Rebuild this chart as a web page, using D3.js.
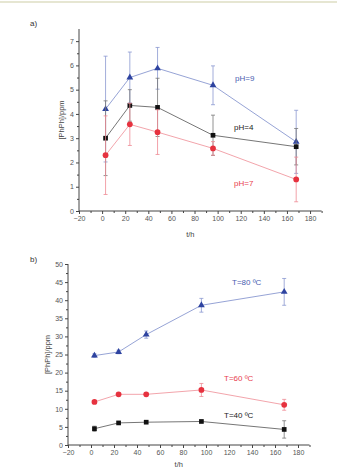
<!DOCTYPE html>
<html>
<head>
<meta charset="utf-8">
<script src="https://cdn.jsdelivr.net/npm/d3@7"></script>
<style>
  body { margin: 0; background: #fff; }
  svg { display: block; font-family: "Liberation Sans", Arial, sans-serif; }
</style>
</head>
<body>
<div id="viz"></div>
<script>
// sampling times (h), shared by both panels
const times = [3, 24, 48, 96, 168];
const xTicks = [-20, 0, 20, 40, 60, 80, 100, 120, 140, 160, 180];

// panel a) pH series
const ph9 = [4.2, 5.5, 5.88, 5.18, 2.85];
const ph9Err = [2.18, 1.05, 0.86, 0.8, 1.3];
const ph4 = [3.0, 4.35, 4.27, 3.12, 2.65];
const ph4Err = [1.54, 0.65, 1.2, 0.83, 0.75];
const ph7 = [2.3, 3.57, 3.25, 2.58, 1.3];
const ph7Err = [1.62, 0.87, 0.92, 0.28, 0.92];
const aTicks = [0, 1, 2, 3, 4, 5, 6, 7];

// panel b) temperature series
const t80 = [24.7, 25.7, 30.5, 38.6, 42.3];
const t80Err = [0.5, 0.5, 1.0, 1.9, 3.7];
const t60 = [11.9, 14.0, 14.0, 15.2, 11.1];
const t60Err = [0.4, 0.4, 0.4, 1.8, 1.5];
const t40 = [4.5, 6.1, 6.3, 6.5, 4.3];
const t40Err = [0.7, 0.3, 0.3, 0.3, 2.4];
const bTicks = [0, 5, 10, 15, 20, 25, 30, 35, 40, 45, 50];

const W = 337, H = 469;
const svg = d3.select("#viz").append("svg").attr("width", W).attr("height", H);

// thin beige rule at the very top
svg.append("rect").attr("x", 0).attr("y", 1).attr("width", W).attr("height", 2)
    .attr("fill", "#e6e6d2");

const style = {
    blue: { line: "#8a98d0", mark: "#2e43a0", err: "#8a98d0", text: "#4a5db0", shape: "triangle" },
    black: { line: "#666", mark: "#111", err: "#777", text: "#222", shape: "square" },
    red: { line: "#f09aa2", mark: "#e6323f", err: "#ef8a94", text: "#e8404e", shape: "circle" }
};

function drawPanel(p) {
    const x = d3.scaleLinear().domain([-20, 190]).range(p.xRange);
    const y = d3.scaleLinear().domain(p.yDomain).range(p.yRange);
    const g = svg.append("g");

    // panel tag
    g.append("text").attr("x", p.tag[0]).attr("y", p.tag[1])
        .attr("font-size", 8).attr("fill", "#333").text(p.tagText);

    // x axis
    g.append("g")
        .attr("transform", `translate(0,${p.yRange[0]})`)
        .call(d3.axisBottom(x).tickValues(xTicks).tickSize(3).tickPadding(2))
        .call(a => a.select(".domain").attr("d", `M${p.xRange[0]},0H${p.xRange[1]}`));
    g.append("g")
        .attr("transform", `translate(0,${p.yRange[0]})`)
        .call(d3.axisBottom(x).tickValues(d3.range(-10, 191, 20)).tickSize(2).tickFormat(""))
        .call(a => a.select(".domain").remove());

    // y axis
    g.append("g")
        .attr("transform", `translate(${p.xRange[0]},0)`)
        .call(d3.axisLeft(y).tickValues(p.yTicks).tickSize(3).tickPadding(2))
        .call(a => a.select(".domain").attr("d", `M0,${p.yRange[0]}V${p.yRange[1]}`));
    g.append("g")
        .attr("transform", `translate(${p.xRange[0]},0)`)
        .call(d3.axisLeft(y).tickValues(p.minorY).tickSize(2).tickFormat(""))
        .call(a => a.select(".domain").remove());

    g.selectAll(".tick text").attr("font-size", 7).attr("fill", "#555")
        .attr("font-family", "Liberation Sans, Arial, sans-serif");
    g.selectAll(".tick line").attr("stroke", "#444");
    g.selectAll(".domain").attr("stroke", "#444");

    // axis titles
    g.append("text").attr("x", (p.xRange[0] + p.xRange[1]) / 2 - 10).attr("y", p.xLabelY)
        .attr("text-anchor", "middle").attr("font-size", 7.5).attr("fill", "#444").text("t/h");
    g.append("text")
        .attr("transform", `translate(${p.yLabelX},${(p.yRange[0] + p.yRange[1]) / 2}) rotate(-90)`)
        .attr("text-anchor", "middle").attr("font-size", 7.5).attr("fill", "#444").text("[PhPh]/ppm");

    const line = d3.line().x((d, i) => x(times[i])).y(d => y(d));

    p.series.forEach(s => {
        const st = style[s.color];
        const pts = s.values.map((v, i) => ({ t: times[i], v, e: s.err[i] }));

        // error bars
        const eb = g.append("g").attr("stroke", st.err).attr("stroke-width", 0.8);
        pts.forEach(d => {
            eb.append("line").attr("x1", x(d.t)).attr("x2", x(d.t))
                .attr("y1", y(d.v - d.e)).attr("y2", y(d.v + d.e));
            [d.v - d.e, d.v + d.e].forEach(c => {
                eb.append("line").attr("x1", x(d.t) - 2).attr("x2", x(d.t) + 2)
                    .attr("y1", y(c)).attr("y2", y(c));
            });
        });

        g.append("path").datum(s.values)
            .attr("fill", "none").attr("stroke", st.line).attr("stroke-width", 0.9)
            .attr("d", line);

        const sym = st.shape === "triangle" ? d3.symbolTriangle
            : st.shape === "square" ? d3.symbolSquare : d3.symbolCircle;
        const size = st.shape === "circle" ? 26 : st.shape === "square" ? 22 : 20;
        g.selectAll(null).data(pts).join("path")
            .attr("transform", d => `translate(${x(d.t)},${y(d.v)})`)
            .attr("d", d3.symbol().type(sym).size(size))
            .attr("fill", st.mark);

        g.append("text").attr("x", s.label[0]).attr("y", s.label[1])
            .attr("font-size", 8).attr("fill", st.text).text(s.name);
    });
}

drawPanel({
    tagText: "a)", tag: [30, 26],
    xRange: [79, 321.6], yDomain: [0, 7.5], yRange: [211, 29],
    yTicks: aTicks, minorY: d3.range(0.5, 7.5, 1),
    xLabelY: 237, yLabelX: 64,
    series: [
        { name: "pH=9", color: "blue", values: ph9, err: ph9Err, label: [235, 81] },
        { name: "pH=4", color: "black", values: ph4, err: ph4Err, label: [234, 130] },
        { name: "pH=7", color: "red", values: ph7, err: ph7Err, label: [234, 186] }
    ]
});

drawPanel({
    tagText: "b)", tag: [30, 262],
    xRange: [68, 309.5], yDomain: [0, 50], yRange: [445, 264],
    yTicks: bTicks, minorY: d3.range(2.5, 50, 5),
    xLabelY: 467, yLabelX: 50,
    series: [
        { name: "T=80 ºC", color: "blue", values: t80, err: t80Err, label: [232, 285] },
        { name: "T=60 ºC", color: "red", values: t60, err: t60Err, label: [224, 381] },
        { name: "T=40 ºC", color: "black", values: t40, err: t40Err, label: [224, 418] }
    ]
});
</script>
</body>
</html>
